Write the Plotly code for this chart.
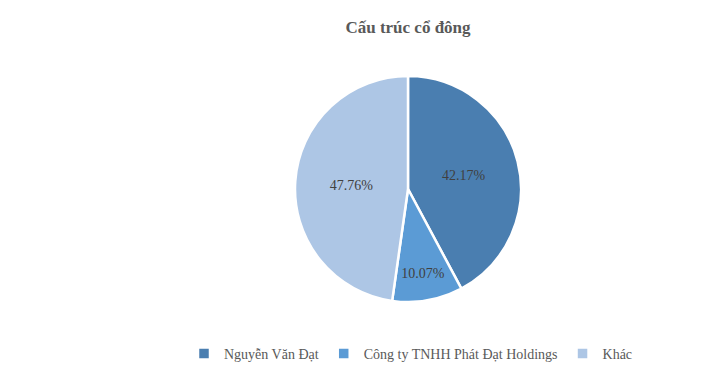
import plotly.graph_objects as go

labels = ["Nguyễn Văn Đạt", "Công ty TNHH Phát Đạt Holdings", "Khác"]
values = [42.17, 10.07, 47.76]
colors = ["#4A7EB0", "#5B9BD5", "#ADC6E5"]

W, H = 716, 374
cx, cy, r = 408, 189, 113

fig = go.Figure(go.Pie(
    labels=labels,
    values=values,
    sort=False,
    direction="clockwise",
    rotation=0,
    marker=dict(colors=colors, line=dict(color="white", width=2.5)),
    texttemplate="%{value:.2f}%",
    textposition="inside",
    insidetextorientation="horizontal",
    textfont=dict(family="Liberation Serif", size=14, color="#404040"),
    domain=dict(x=[(cx - r) / W, (cx + r) / W], y=[(H - cy - r) / H, (H - cy + r) / H]),
    hoverinfo="label+percent",
))

fig.update_layout(
    width=W, height=H,
    margin=dict(l=0, r=0, t=0, b=0),
    paper_bgcolor="white",
    plot_bgcolor="white",
    font=dict(family="Liberation Serif", color="#595959"),
    title=dict(text="<b>Cấu trúc cổ đông</b>", x=cx / W, xanchor="center", y=1 - 27 / H, yanchor="middle",
               font=dict(family="Liberation Serif", size=17, color="#595959")),
    legend=dict(orientation="h", x=411 / W, xanchor="center", y=1 - 354 / H, yanchor="middle",
                font=dict(family="Liberation Serif", size=14, color="#595959"),
                itemwidth=30, bgcolor="rgba(0,0,0,0)"),
    showlegend=True,
)

fig.write_html("out.html")
